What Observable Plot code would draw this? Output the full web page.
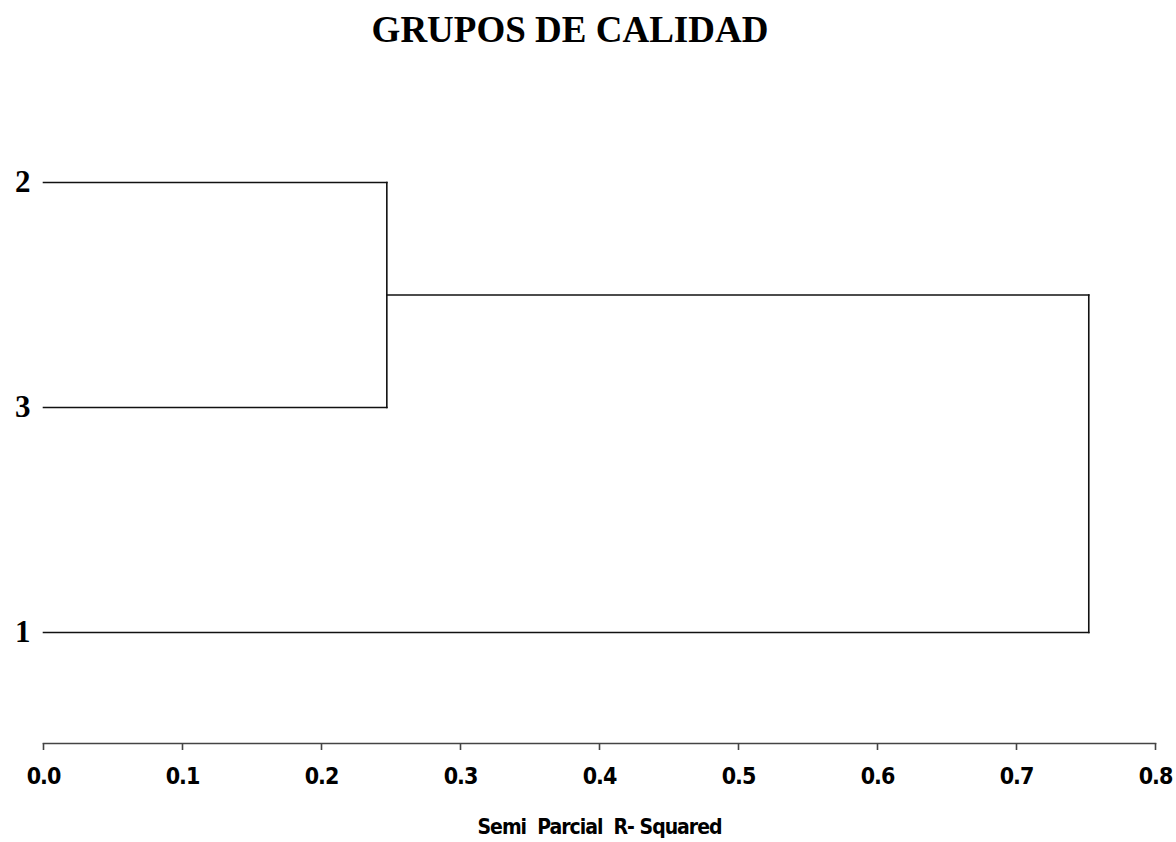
<!DOCTYPE html>
<html>
<head>
<meta charset="utf-8">
<script src="https://cdn.jsdelivr.net/npm/d3@7"></script>
<script src="https://cdn.jsdelivr.net/npm/@observablehq/plot@0.6"></script>
<style>
  html, body { margin: 0; padding: 0; background: #fff; }
  #title {
    width: 1176px; height: 70px; box-sizing: border-box;
    text-align: center;
    font-family: "Liberation Serif", "DejaVu Serif", serif;
    font-weight: bold; font-size: 37px; line-height: 60px;
    color: #000;
    text-indent: -36px;
  }
  #chart svg { display: block; }
  #chart [aria-label="x-axis tick label"] text {
    font-family: "Liberation Sans Narrow", "DejaVu Sans Condensed", sans-serif;
    font-stretch: condensed; font-weight: bold; font-size: 23px;
    letter-spacing: -1px;
  }
  #chart [aria-label="x-axis label"] text {
    font-family: "Liberation Sans Narrow", "DejaVu Sans Condensed", sans-serif;
    font-stretch: condensed; font-weight: bold; font-size: 21px;
    letter-spacing: -1px;
  }
  #chart [aria-label="y-axis tick label"] text {
    font-family: "Liberation Serif", "DejaVu Serif", serif;
    font-weight: bold; font-size: 31px;
  }
</style>
</head>
<body>
<div id="title">GRUPOS DE CALIDAD</div>
<div id="chart"></div>
<script>
// Leaves in the order they appear from top to bottom
const leaves = ["2", "3", "1"];
// Agglomeration steps: the two clusters joined and the semi-partial R² at which they join
const mergeLeft = ["2", "2-3"];
const mergeRight = ["3", "1"];
const mergeHeight = [0.247, 0.752];
const mergeName = ["2-3", "root"];
// Axis ticks
const xTicks = [0, 0.1, 0.2, 0.3, 0.4, 0.5, 0.6, 0.7, 0.8];

// Vertical position and height of every node (leaves sit at height 0)
const nodePos = new Map(leaves.map((d, i) => [d, i]));
const nodeHeight = new Map(leaves.map(d => [d, 0]));
const segments = [];
mergeName.forEach((name, i) => {
  const a = mergeLeft[i], b = mergeRight[i], h = mergeHeight[i];
  const ya = nodePos.get(a), yb = nodePos.get(b);
  // horizontal branch of each child up to the joining height
  segments.push({x1: nodeHeight.get(a), y1: ya, x2: h, y2: ya});
  segments.push({x1: nodeHeight.get(b), y1: yb, x2: h, y2: yb});
  // vertical connector at the joining height
  segments.push({x1: h, y1: ya, x2: h, y2: yb});
  nodePos.set(name, (ya + yb) / 2);
  nodeHeight.set(name, h);
});

const chart = Plot.plot({
  width: 1176,
  height: 772,
  marginLeft: 43,
  marginRight: 21,
  marginTop: 0,
  marginBottom: 99,
  style: {background: "#fff", color: "#000", overflow: "visible"},
  x: {domain: [0, 0.8], ticks: xTicks, tickFormat: d3.format(".1f")},
  y: {domain: [0, 2], range: [112, 562]},
  marks: [
    Plot.frame({anchor: "bottom", stroke: "#444", strokeWidth: 1.6}),
    Plot.axisX({
      ticks: xTicks, tickFormat: d3.format(".1f"),
      tickSize: 7, tickPadding: 17, stroke: "#444", strokeWidth: 1.6,
      label: "Semi  Parcial  R- Squared", labelAnchor: "center", labelArrow: "none",
      labelOffset: 90, fill: "#000"
    }),
    Plot.axisY({
      ticks: leaves.map((d, i) => i), tickFormat: i => leaves[i],
      tickSize: 0, tickPadding: 13, label: null, fill: "#000"
    }),
    Plot.link(segments, {
      x1: "x1", y1: "y1", x2: "x2", y2: "y2",
      stroke: "#111", strokeWidth: 1.6, strokeLinecap: "square"
    })
  ]
});
document.getElementById("chart").appendChild(chart);
</script>
</body>
</html>
